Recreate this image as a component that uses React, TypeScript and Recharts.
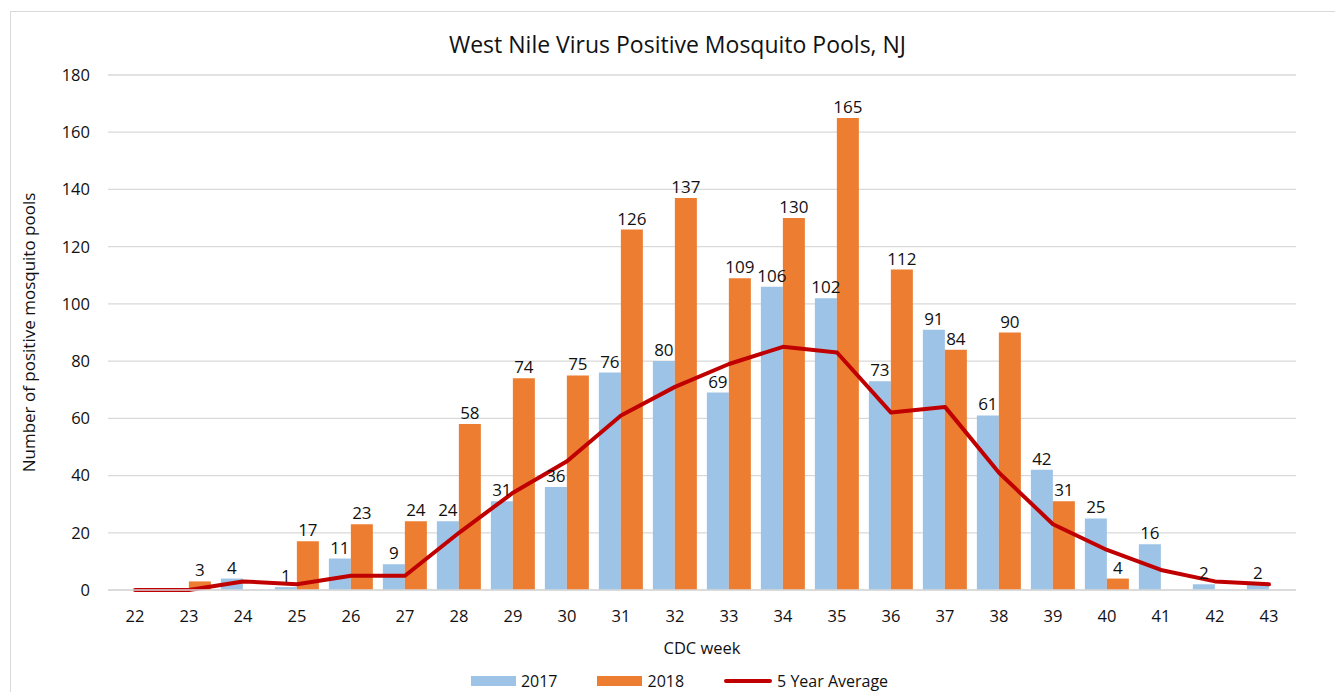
import React from "react";
import { ComposedChart, Bar, Line, XAxis, YAxis, CartesianGrid, Legend, LabelList } from "recharts";

const weeks = [22, 23, 24, 25, 26, 27, 28, 29, 30, 31, 32, 33, 34, 35, 36, 37, 38, 39, 40, 41, 42, 43];
const pools2017 = [0, 0, 4, 1, 11, 9, 24, 31, 36, 76, 80, 69, 106, 102, 73, 91, 61, 42, 25, 16, 2, 2];
const pools2018 = [0, 3, 0, 17, 23, 24, 58, 74, 75, 126, 137, 109, 130, 165, 112, 84, 90, 31, 4, 0, 0, 0];
const fiveYearAvg = [0, 0, 3, 2, 5, 5, 20, 34, 45, 61, 71, 79, 85, 83, 62, 64, 41, 23, 14, 7, 3, 2];
const yTicks = [0, 20, 40, 60, 80, 100, 120, 140, 160, 180];

const data = weeks.map((w, i) => ({
  week: String(w),
  y2017: pools2017[i],
  y2018: pools2018[i],
  avg: fiveYearAvg[i],
}));

const FONT = "'Open Sans', sans-serif";
const hideZero = (v: any) => (v ? v : "");

const legendItems = [
  { label: "2017", color: "#9DC3E6", kind: "box" },
  { label: "2018", color: "#ED7D31", kind: "box" },
  { label: "5 Year Average", color: "#C00000", kind: "line" },
];

function ChartLegend() {
  return (
    <div style={{ boxSizing: "border-box", height: 36, paddingTop: 15, display: "flex", justifyContent: "center", alignItems: "flex-start", gap: 40, paddingLeft: 52, fontFamily: FONT, fontSize: 16, color: "#111" }}>
      {legendItems.map((it) => (
        <div key={it.label} style={{ display: "flex", alignItems: "center", gap: 5, lineHeight: "18px" }}>
          {it.kind === "box" ? (
            <span style={{ display: "inline-block", width: 45, height: 10, background: it.color }} />
          ) : (
            <span style={{ display: "inline-block", width: 48, height: 4, borderRadius: 2, background: it.color }} />
          )}
          <span>{it.label}</span>
        </div>
      ))}
    </div>
  );
}

export default function App() {
  return (
    <div style={{ position: "relative", marginLeft: 2, marginTop: 3, width: 1333, height: 681, borderTop: "1px solid #d9d9d9", borderLeft: "1px solid #d9d9d9", overflow: "hidden" }}>
      <div style={{ position: "absolute", top: 16, left: 0, width: 1333, textAlign: "center", fontFamily: FONT, fontSize: 23, color: "#111" }}>
        West Nile Virus Positive Mosquito Pools, NJ
      </div>
      <ComposedChart
        width={1333}
        height={681}
        data={data}
        margin={{ top: 63, right: 48, left: 0, bottom: 0 }}
        barCategoryGap="9%"
        barGap={0}
        style={{ fontFamily: FONT }}
      >
        <CartesianGrid vertical={false} stroke="#d9d9d9" strokeWidth={1.3} />
        <XAxis
          dataKey="week"
          height={67}
          tickLine={false}
          tickSize={0}
          tickMargin={20}
          axisLine={{ stroke: "#d9d9d9", strokeWidth: 1.3 }}
          tick={{ fontSize: 16.5, fill: "#111" }}
          label={{ value: "CDC week", position: "insideBottom", offset: 3, fontSize: 16.5, fill: "#111" }}
        />
        <YAxis
          width={97}
          domain={[0, 180]}
          ticks={yTicks}
          tickLine={false}
          axisLine={false}
          tickSize={0}
          tickMargin={18}
          tick={{ fontSize: 16.5, fill: "#111" }}
          label={{ value: "Number of positive mosquito pools", angle: -90, position: "insideLeft", offset: 18, fontSize: 17, fill: "#111", style: { textAnchor: "middle" } }}
        />
        <Legend verticalAlign="bottom" content={() => <ChartLegend />} />
        <Bar dataKey="y2017" name="2017" fill="#9DC3E6" isAnimationActive={false}>
          <LabelList dataKey="y2017" position="top" offset={5} formatter={hideZero} style={{ fontSize: 17, fill: "#111" }} />
        </Bar>
        <Bar dataKey="y2018" name="2018" fill="#ED7D31" isAnimationActive={false}>
          <LabelList dataKey="y2018" position="top" offset={5} formatter={hideZero} style={{ fontSize: 17, fill: "#111" }} />
        </Bar>
        <Line dataKey="avg" name="5 Year Average" type="linear" stroke="#C00000" strokeWidth={4} strokeLinecap="round" strokeLinejoin="round" dot={false} activeDot={false} isAnimationActive={false} />
      </ComposedChart>
    </div>
  );
}
